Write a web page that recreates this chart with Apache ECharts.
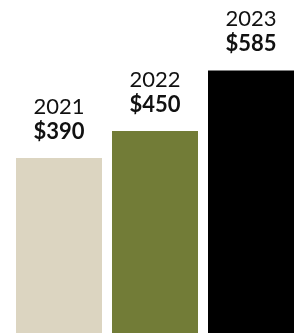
<!DOCTYPE html>
<html>
<head>
<meta charset="utf-8">
<script src="https://cdn.jsdelivr.net/npm/echarts@6/dist/echarts.min.js"></script>
<style>
  html, body { margin: 0; padding: 0; background: #fff; }
  #chart { width: 299px; height: 333px; }
</style>
</head>
<body>
<div id="chart"></div>
<script>
// data
var years = ['2021', '2022', '2023'];
var amounts = [390, 450, 585];
var barColors = ['#dcd5c1', '#727c37', '#000000'];

var myChart = echarts.init(document.getElementById('chart'));

var option = {
    animation: false,
    grid: { left: 11, top: 0, bottom: 0, width: 291, containLabel: false },
    xAxis: {
        type: 'category',
        data: years,
        show: false
    },
    yAxis: {
        type: 'value',
        min: 0,
        max: 742,
        show: false
    },
    series: [{
        type: 'bar',
        barWidth: 86,
        data: amounts.map(function (v, i) {
            return { value: v, itemStyle: { color: barColors[i] } };
        }),
        label: {
            show: true,
            position: 'top',
            distance: 14,
            formatter: function (p) {
                return '{y|' + years[p.dataIndex] + '}\n{v|$' + p.value + '}';
            },
            rich: {
                y: { fontFamily: 'Lato', fontSize: 22, fontWeight: 'normal', color: '#111', lineHeight: 25 },
                v: { fontFamily: 'Lato', fontSize: 22, fontWeight: 'bold', color: '#111', lineHeight: 25 }
            }
        }
    }]
};
myChart.setOption(option);
</script>
</body>
</html>
